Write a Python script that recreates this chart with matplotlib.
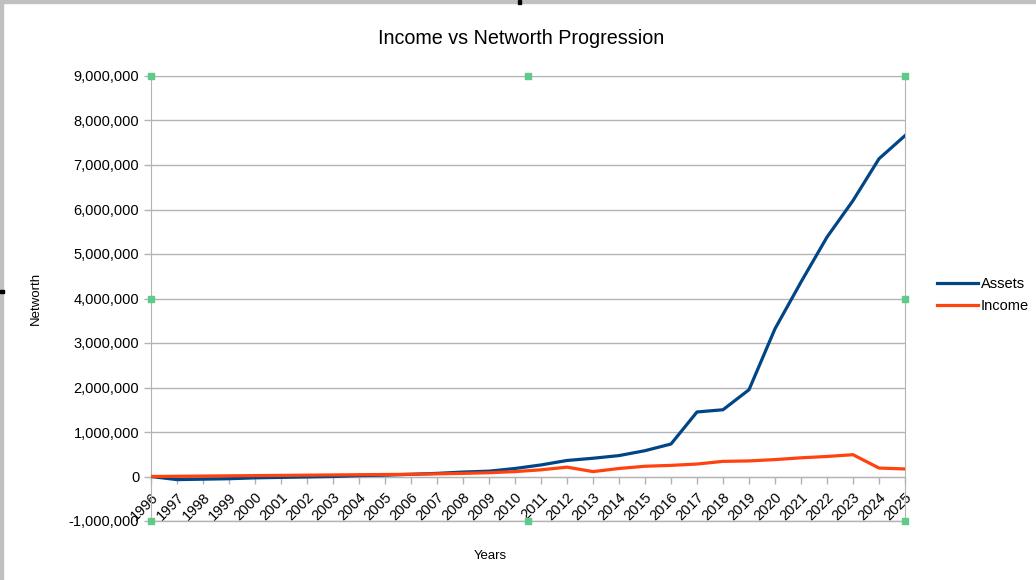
import matplotlib.pyplot as plt
from matplotlib.patches import Rectangle
from matplotlib.ticker import FuncFormatter, MultipleLocator

years = list(range(1996, 2026))
assets = [0, -70000, -60000, -50000, -30000, -20000, -10000, 0, 20000, 30000,
          50000, 70000, 100000, 120000, 180000, 260000, 360000, 410000, 470000, 580000,
          730000, 1450000, 1500000, 1950000, 3320000, 4370000, 5380000, 6200000, 7140000, 7660000]
income = [0, 5000, 10000, 15000, 20000, 25000, 30000, 35000, 40000, 45000,
          50000, 60000, 70000, 85000, 110000, 150000, 210000, 110000, 180000, 230000,
          250000, 280000, 340000, 350000, 380000, 420000, 450000, 490000, 190000, 170000]

plt.rcParams['font.family'] = ['Liberation Sans', 'DejaVu Sans']

fig = plt.figure(figsize=(10.36, 5.8), dpi=100)
ax = fig.add_axes([151/1036, 1 - 521/580, 754/1036, 445/580])

grid_col = '#b3b3b3'
for s in ['left', 'right', 'top', 'bottom']:
    ax.spines[s].set_color(grid_col)
# x axis crosses at zero, like the LibreOffice chart
ax.spines['bottom'].set_position(('data', 0))

ax.plot(years, assets, color='#004586', lw=2.3, label='Assets', zorder=3)
ax.plot(years, income, color='#ff420e', lw=2.3, label='Income', zorder=3)

ax.set_xlim(1996, 2025)
ax.set_ylim(-1000000, 9000000)
ax.yaxis.set_major_locator(MultipleLocator(1000000))
ax.yaxis.set_major_formatter(FuncFormatter(lambda v, p: f'{int(v):,}'))
ax.set_xticks(years)
ax.set_xticklabels([str(y) for y in years])
ax.tick_params(axis='y', colors=grid_col, labelcolor='black', labelsize=10.5, length=5, width=1)
ax.tick_params(axis='x', colors=grid_col, labelcolor='black', labelsize=10.5,
               length=5, width=1, pad=5)
for lab in ax.get_xticklabels():
    lab.set_rotation(45)
    lab.set_ha('right')
    lab.set_va('top')
    lab.set_rotation_mode('anchor')
ax.grid(axis='y', color=grid_col, lw=1)
ax.set_axisbelow(True)
ax.axhline(-1000000, color=grid_col, lw=1, clip_on=False)

ax.set_ylabel('Networth', fontsize=9.5)
ax.yaxis.set_label_coords(-0.1446, 0.5)
ax.set_xlabel('Years', fontsize=9.5)
ax.xaxis.set_label_coords(0.45, -0.065)
fig.text(521/1036, 1 - 38/580, 'Income vs Networth Progression', fontsize=14.2,
         ha='center', va='center')

ax.legend(loc='center left', bbox_to_anchor=(1.035, 0.508), frameon=False,
          fontsize=10.5, handlelength=2.8, handletextpad=0.2, labelspacing=0.55,
          borderaxespad=0)

# selection handles
hx = [0, 0.5, 1, 0, 1, 0, 0.5, 1]
hy = [0, 0, 0, 0.5, 0.5, 1, 1, 1]
ax.scatter(hx, hy, marker='s', s=22, color='#5ecb8b', transform=ax.transAxes,
           clip_on=False, zorder=5)

# window frame
fig.patches.append(Rectangle((0, 1 - 3/580), 1, 3/580, transform=fig.transFigure,
                             color='#c0c0c0', zorder=0))
fig.patches.append(Rectangle((0, 0), 3/1036, 1, transform=fig.transFigure,
                             color='#c0c0c0', zorder=0))
fig.patches.append(Rectangle((518/1036, 1 - 4/580), 3/1036, 4/580, transform=fig.transFigure,
                             color='black', zorder=1))
fig.patches.append(Rectangle((0, 1 - 293/580), 4/1036, 3/580, transform=fig.transFigure,
                             color='black', zorder=1))

fig.savefig('out.png', dpi=100)
